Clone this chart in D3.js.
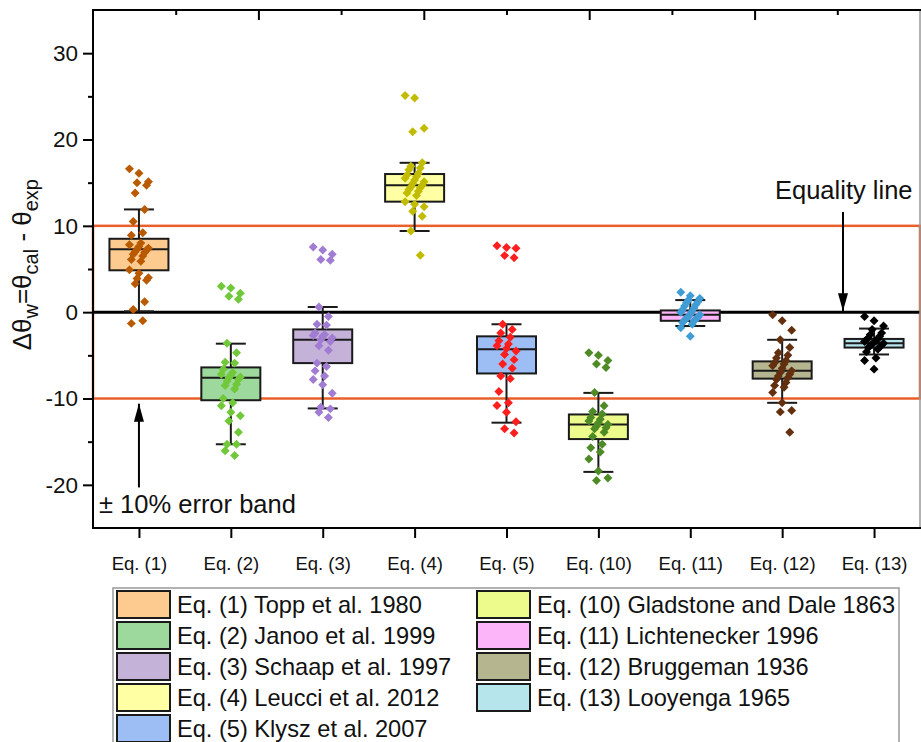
<!DOCTYPE html>
<html>
<head>
<meta charset="utf-8">
<title>water content error boxes</title>
<script src="https://d3js.org/d3.v7.min.js"></script>
<style>
  body { margin: 0; background: #fff; }
  text { font-family: "Liberation Sans", Arial, sans-serif; fill: #111; }
</style>
</head>
<body>
<div id="vis"></div>
<script>

// categories on the x axis
const cats = ["Eq. (1)", "Eq. (2)", "Eq. (3)", "Eq. (4)", "Eq. (5)", "Eq. (10)", "Eq. (11)", "Eq. (12)", "Eq. (13)"];

const legendLabels = [
  "Eq. (1) Topp et al. 1980", "Eq. (2) Janoo et al. 1999", "Eq. (3) Schaap et al. 1997",
  "Eq. (4) Leucci et al. 2012", "Eq. (5) Klysz et al. 2007", "Eq. (10) Gladstone and Dale 1863",
  "Eq. (11) Lichtenecker 1996", "Eq. (12) Bruggeman 1936", "Eq. (13) Looyenga 1965"
];

// box statistics
const q1     = [4.85, -10.2, -5.9, 12.8, -7.1, -14.7, -1.0, -7.7, -4.1];
const median = [7.3, -7.6, -3.2, 14.7, -4.3, -13.0, -0.3, -6.8, -3.6];
const q3     = [8.5, -6.4, -2.0, 16.0, -2.8, -11.85, 0.2, -5.7, -3.1];
const whLow  = [0.1, -15.3, -11.15, 9.4, -12.8, -18.5, -1.6, -10.5, -4.9];
const whHigh = [11.9, -3.65, 0.6, 17.3, -1.4, -9.35, 1.4, -3.2, -1.9];

// individual points for each equation
const pts = [
  [16.6, 16.1, 15.1, 15.0, 14.7, 13.8, 11.9, 10.5, 9.2, 8.9, 8.0, 7.8, 7.6, 7.4, 7.3, 7.2, 7.0, 6.9, 6.7, 6.5, 6.1, 5.9, 4.9, 4.5, 4.0, 3.9, 3.7, 3.3, 1.2, 0.3, -1.0, -1.3],
  [3.0, 2.8, 2.2, 1.85, 1.5, -3.6, -4.7, -5.8, -5.9, -6.6, -7.0, -7.2, -7.3, -7.5, -7.6, -7.8, -8.0, -8.35, -8.5, -8.9, -10.0, -10.5, -10.85, -11.6, -12.0, -12.6, -13.9, -15.3, -15.3, -16.05, -16.6],
  [7.55, 7.2, 6.7, 6.1, 6.0, 0.6, -0.5, -1.4, -1.5, -2.4, -2.6, -2.7, -2.8, -3.0, -3.2, -3.4, -3.9, -4.4, -5.9, -6.3, -6.8, -7.4, -7.8, -8.4, -9.4, -11.0, -11.2, -11.6, -12.2],
  [25.1, 24.8, 21.3, 20.9, 17.3, 16.9, 16.7, 16.5, 16.1, 15.9, 15.7, 15.5, 15.3, 15.1, 14.9, 14.7, 14.5, 14.4, 14.2, 14.0, 13.8, 13.5, 12.8, 12.5, 12.2, 11.7, 11.1, 9.4, 6.6],
  [7.7, 7.5, 7.4, 6.55, 6.3, -1.4, -2.0, -2.4, -2.9, -3.3, -3.7, -3.9, -4.2, -4.5, -4.9, -5.5, -6.0, -6.5, -7.4, -7.7, -9.2, -10.5, -10.8, -11.6, -12.7, -13.5, -14.0],
  [-4.7, -5.0, -5.6, -6.0, -6.4, -9.3, -10.85, -11.5, -11.8, -12.2, -12.4, -12.6, -12.8, -13.0, -13.2, -13.4, -13.5, -13.9, -14.4, -15.3, -15.7, -16.2, -17.0, -18.4, -19.2, -19.5],
  [2.3, 1.9, 1.6, 1.4, 1.2, 1.1, 0.9, 0.7, 0.5, 0.3, 0.1, 0.0, -0.2, -0.3, -0.5, -0.6, -0.7, -0.8, -0.9, -1.0, -1.2, -1.4, -1.8, -2.8],
  [-0.3, -1.0, -2.1, -3.2, -4.1, -4.7, -5.0, -5.3, -5.6, -5.85, -6.0, -6.2, -6.5, -6.8, -7.0, -7.2, -7.4, -7.6, -7.8, -8.15, -8.5, -8.7, -9.3, -10.5, -11.4, -11.55, -13.9],
  [-0.5, -1.0, -1.6, -2.0, -2.4, -2.6, -2.8, -3.0, -3.1, -3.2, -3.3, -3.4, -3.5, -3.6, -3.7, -3.8, -3.9, -4.0, -4.1, -4.3, -4.6, -5.3, -5.6, -6.6]
];

// colours
const boxFill = ["#fdcb90", "#9dd99d", "#c5b2d8", "#ffffa3", "#9dbef5", "#edfb8c", "#fdb5f9", "#b5b58f", "#b6e5ec"];
const dotFill = ["#b95a00", "#70c83a", "#a07cd2", "#c2bc00", "#ff1e1e", "#4e8a26", "#409cd4", "#62300f", "#000000"];

const yTicks = [-20, -10, 0, 10, 20, 30];
const yMinor = [-15, -5, 5, 15, 25];

const W = 921, H = 742;
const mLeft = 93, mRight = 920, mTop = 10, mBottom = 528;

const svg = d3.select("#vis").append("svg")
  .attr("width", W).attr("height", H)
  .attr("viewBox", [0, 0, W, H]);

const x = d3.scalePoint().domain(cats).range([mLeft, mRight]).padding(0.5);
const y = d3.scaleLinear().domain([-25, 35]).range([mBottom, mTop]);
const xTop = d3.scaleLinear().domain([0, 10]).range([mLeft, mRight]);

const boxW = 59, capW = 30;

// error band and equality line
svg.append("rect")
  .attr("x", mLeft).attr("y", y(10))
  .attr("width", mRight - mLeft).attr("height", y(-10) - y(10))
  .attr("fill", "none").attr("stroke", "#e9602a").attr("stroke-width", 2.5);

svg.append("line")
  .attr("x1", mLeft).attr("x2", mRight)
  .attr("y1", y(0)).attr("y2", y(0))
  .attr("stroke", "#000").attr("stroke-width", 3);

// boxes
const rows = cats.map((c, i) => ({c, i}));

const g = svg.append("g");
g.selectAll("rect.box")
  .data(rows)
  .join("rect")
  .attr("class", "box")
  .attr("x", d => x(d.c) - boxW / 2)
  .attr("y", d => y(q3[d.i]))
  .attr("width", boxW)
  .attr("height", d => y(q1[d.i]) - y(q3[d.i]))
  .attr("fill", d => boxFill[d.i])
  .attr("stroke", "#1a1a1a").attr("stroke-width", 2);

g.selectAll("line.med")
  .data(rows)
  .join("line")
  .attr("class", "med")
  .attr("x1", d => x(d.c) - boxW / 2).attr("x2", d => x(d.c) + boxW / 2)
  .attr("y1", d => y(median[d.i])).attr("y2", d => y(median[d.i]))
  .attr("stroke", "#1a1a1a").attr("stroke-width", 2);

// whiskers
const wh = [];
rows.forEach(d => {
  wh.push({c: d.c, a: q3[d.i], b: whHigh[d.i]});
  wh.push({c: d.c, a: q1[d.i], b: whLow[d.i]});
});
g.selectAll("line.wh")
  .data(wh)
  .join("line")
  .attr("class", "wh")
  .attr("x1", d => x(d.c)).attr("x2", d => x(d.c))
  .attr("y1", d => y(d.a)).attr("y2", d => y(d.b))
  .attr("stroke", "#1a1a1a").attr("stroke-width", 2);
g.selectAll("line.cap")
  .data(wh)
  .join("line")
  .attr("class", "cap")
  .attr("x1", d => x(d.c) - capW / 2).attr("x2", d => x(d.c) + capW / 2)
  .attr("y1", d => y(d.b)).attr("y2", d => y(d.b))
  .attr("stroke", "#1a1a1a").attr("stroke-width", 2);

// points, spread sideways a little so they don't sit on top of each other
const dots = [];
pts.forEach((arr, k) => arr.forEach((v, i) => {
  dots.push({c: cats[k], k, v, off: ((i * 5) % 11 - 5) * 1.9});
}));
const diamond = d3.symbol(d3.symbolSquare, 40);
svg.append("g").selectAll("path")
  .data(dots)
  .join("path")
  .attr("d", diamond)
  .attr("transform", d => `translate(${x(d.c) + d.off},${y(d.v)}) rotate(45)`)
  .attr("fill", d => dotFill[d.k]);

// axes
svg.append("g")
  .attr("transform", `translate(${mLeft},0)`)
  .call(d3.axisLeft(y).tickValues(yTicks).tickSize(10).tickPadding(5).tickFormat(d => String(d)))
  .call(a => a.select(".domain").remove())
  .call(a => a.selectAll("line").attr("stroke-width", 2))
  .call(a => a.selectAll("text").attr("font-size", 22.5).style("font-family", "Liberation Sans, Arial"));

svg.append("g")
  .attr("transform", `translate(${mLeft},0)`)
  .call(d3.axisLeft(y).tickValues(yMinor).tickSize(5).tickFormat(""))
  .call(a => a.select(".domain").remove())
  .call(a => a.selectAll("line").attr("stroke-width", 2));

svg.append("g")
  .attr("transform", `translate(0,${mBottom})`)
  .call(d3.axisBottom(x).tickSize(10).tickPadding(19))
  .call(a => a.select(".domain").remove())
  .call(a => a.selectAll("line").attr("stroke-width", 2))
  .call(a => a.selectAll("text").attr("font-size", 18.5).style("font-family", "Liberation Sans, Arial"));

// top axis ticks point inwards
svg.append("g")
  .attr("transform", `translate(0,${mTop})`)
  .call(d3.axisTop(xTop).tickValues([2, 4, 6, 8]).tickSize(-10).tickFormat(""))
  .call(a => a.select(".domain").remove())
  .call(a => a.selectAll("line").attr("stroke-width", 2));
svg.append("g")
  .attr("transform", `translate(0,${mTop})`)
  .call(d3.axisTop(xTop).tickValues([1, 3, 5, 7, 9]).tickSize(-5).tickFormat(""))
  .call(a => a.select(".domain").remove())
  .call(a => a.selectAll("line").attr("stroke-width", 2));

// frame
svg.append("line").attr("x1", mRight).attr("x2", mRight).attr("y1", mTop).attr("y2", mBottom)
  .attr("stroke", "#999").attr("stroke-width", 1.5);
svg.append("line").attr("x1", mLeft).attr("x2", mRight + 1).attr("y1", mTop).attr("y2", mTop)
  .attr("stroke", "#000").attr("stroke-width", 2);
svg.append("line").attr("x1", mLeft).attr("x2", mRight + 1).attr("y1", mBottom).attr("y2", mBottom)
  .attr("stroke", "#000").attr("stroke-width", 2);
svg.append("line").attr("x1", mLeft).attr("x2", mLeft).attr("y1", mTop - 1).attr("y2", mBottom + 1)
  .attr("stroke", "#000").attr("stroke-width", 2);

// y label
const yl = svg.append("text")
  .attr("transform", `translate(31,${y(5.5)}) rotate(-90)`)
  .attr("text-anchor", "middle")
  .attr("font-size", 26);
yl.append("tspan").text("\u0394\u03b8");
yl.append("tspan").attr("font-size", 20).attr("dy", 7).text("w");
yl.append("tspan").attr("dy", -7).text("=\u03b8");
yl.append("tspan").attr("font-size", 20).attr("dy", 7).text("cal");
yl.append("tspan").attr("dy", -7).text(" - \u03b8");
yl.append("tspan").attr("font-size", 20).attr("dy", 7).text("exp");

// annotations - long thin arrow heads like the original
svg.append("defs").append("marker")
  .attr("id", "head").attr("viewBox", "0 0 10 10")
  .attr("preserveAspectRatio", "none")
  .attr("refX", 10).attr("refY", 5)
  .attr("markerWidth", 9).attr("markerHeight", 5)
  .attr("markerUnits", "strokeWidth")
  .attr("orient", "auto")
  .append("path").attr("d", "M0,0 L10,5 L0,10 z").attr("fill", "#000");

const eqX = 843;
svg.append("line")
  .attr("x1", eqX).attr("x2", eqX).attr("y1", y(11.6)).attr("y2", y(0) - 1)
  .attr("stroke", "#000").attr("stroke-width", 2).attr("marker-end", "url(#head)");
svg.append("text").attr("x", 775).attr("y", y(13.1))
  .attr("font-size", 25.5).text("Equality line");

svg.append("line")
  .attr("x1", x(cats[0])).attr("x2", x(cats[0])).attr("y1", y(-20.3)).attr("y2", y(-10.6))
  .attr("stroke", "#000").attr("stroke-width", 2).attr("marker-end", "url(#head)");
svg.append("text").attr("x", 99).attr("y", y(-23.3))
  .attr("font-size", 25.5).text("\u00b1 10% error band");

// legend
const lg = svg.append("g");
lg.append("rect")
  .attr("x", 113).attr("y", 588).attr("width", 786).attr("height", 170)
  .attr("fill", "#fff").attr("stroke", "#999").attr("stroke-width", 1.5);

const items = legendLabels.map((t, i) => ({t, i, col: i < 5 ? 0 : 1, row: i < 5 ? i : i - 5}));
const colX = [117, 477];
lg.selectAll("rect.sw")
  .data(items)
  .join("rect")
  .attr("class", "sw")
  .attr("x", d => colX[d.col])
  .attr("y", d => 591 + d.row * 31)
  .attr("width", 53).attr("height", 27)
  .attr("fill", d => boxFill[d.i])
  .attr("stroke", "#1a1a1a").attr("stroke-width", 2);
lg.selectAll("text")
  .data(items)
  .join("text")
  .attr("x", d => colX[d.col] + 60)
  .attr("y", d => 613 + d.row * 31)
  .attr("font-size", 23.6)
  .text(d => d.t);

</script>
</body>
</html>
